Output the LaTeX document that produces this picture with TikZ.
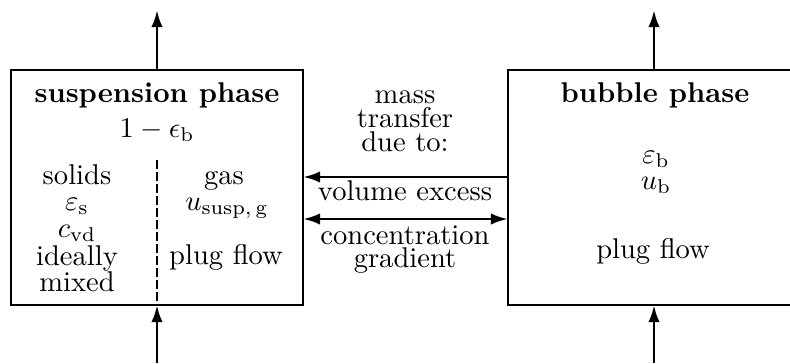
\documentclass[tikz,border=0pt]{standalone}
\usetikzlibrary{arrows.meta}

\begin{document}
\begin{tikzpicture}[x=0.35pt,y=-0.35pt,>={Latex[length=6pt,width=4pt]},
	phase/.style={draw,line width=1pt,inner sep=0,outer sep=0,minimum width=102.2pt,minimum height=82.25pt},
	lbl/.style={anchor=base,inner sep=0,outer sep=0},
	flow/.style={line width=1pt}]
	\useasboundingbox (0,0) rectangle (790,363);
	% the two phases
	\node[phase] (susp) at (157,187.5) {};
	\node[phase] (bub) at (654,187.5) {};
	% suspension phase
	\node[lbl] (susptitle) at (157,102) {\textbf{suspension phase}};
	\node[lbl] (suspfrac) at (157,137) {$1-\epsilon_\mathrm{b}$};
	\node[lbl] (solids) at (77,184) {solids};
	\node[lbl] (epss) at (77,210) {$\varepsilon_\mathrm{s}$};
	\node[lbl] (cvd) at (77,237) {$c_\mathrm{vd}$};
	\node[lbl] (ideally) at (77,265) {ideally};
	\node[lbl] (mixed) at (77,291) {mixed};
	\node[lbl] (gas) at (224,184) {gas};
	\node[lbl] (ususpg) at (227,210) {$u_{\mathrm{susp},\,\mathrm{g}}$};
	\node[lbl] (suspplug) at (226,264) {plug flow};
	\coordinate (divtop) at (157,160);
	\draw[line width=1pt,dash pattern=on 3pt off 1.2pt] (divtop) -- (susp.south);
	% bubble phase
	\node[lbl] (bubtitle) at (655,102) {\textbf{bubble phase}};
	\node[lbl] (epsb) at (656,163) {$\varepsilon_\mathrm{b}$};
	\node[lbl] (ub) at (656,189) {$u_\mathrm{b}$};
	\node[lbl] (bubplug) at (653,258) {plug flow};
	% mass transfer
	\node[lbl] (mass) at (405,103) {mass};
	\node[lbl] (transfer) at (405,127) {transfer};
	\node[lbl] (dueto) at (405,151) {due to:};
	\node[lbl] (volexc) at (405,200) {volume excess};
	\node[lbl] (concen) at (405,244) {concentration};
	\node[lbl] (gradient) at (405,267) {gradient};
	\coordinate (vex) at (405,177);
	\coordinate (conc) at (405,219);
	\draw[flow,->] (bub.west |- vex) -- (susp.east |- vex);
	\draw[flow,<->] (susp.east |- conc) -- (bub.west |- conc);
	% flow in and out
	\coordinate (suspin) at (157,363);
	\coordinate (suspout) at (157,10);
	\coordinate (bubin) at (654,363);
	\coordinate (bubout) at (654,10);
	\draw[flow,->] (suspin) -- (susp.south);
	\draw[flow,->] (susp.north) -- (suspout);
	\draw[flow,->] (bubin) -- (bub.south);
	\draw[flow,->] (bub.north) -- (bubout);
\end{tikzpicture}
\end{document}
